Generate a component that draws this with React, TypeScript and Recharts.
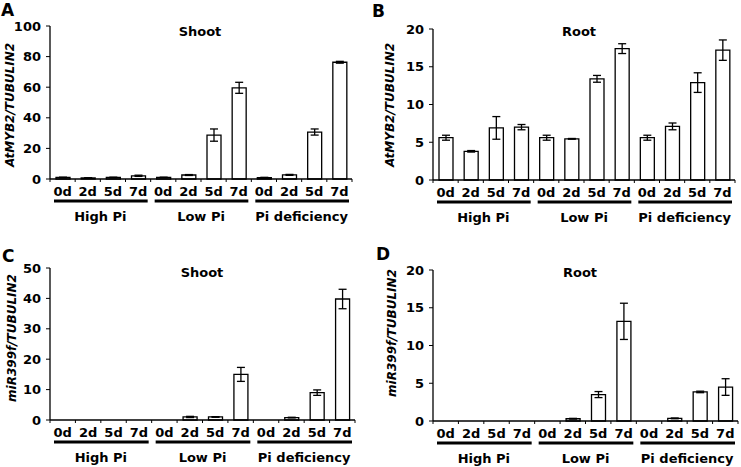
import { Bar, BarChart, ErrorBar, XAxis, YAxis } from "recharts";

const days = ["0d", "2d", "5d", "7d"];
const groups = ["High Pi", "Low Pi", "Pi deficiency"];

const shootMyb2 = [1.0, 0.7, 1.0, 2.1, 1.0, 2.6, 28.7, 59.6, 0.9, 2.7, 30.7, 76.3];
const shootMyb2Err = [0.2, 0.1, 0.2, 0.4, 0.2, 0.3, 4.0, 3.6, 0.2, 0.3, 2.0, 0.6];
const rootMyb2 = [5.6, 3.8, 6.9, 7.0, 5.6, 5.45, 13.4, 17.4, 5.6, 7.1, 12.9, 17.2];
const rootMyb2Err = [0.33, 0.1, 1.5, 0.35, 0.33, 0.05, 0.45, 0.65, 0.33, 0.45, 1.3, 1.35];
const shootMir = [0, 0, 0, 0, 0, 1.0, 1.0, 15.0, 0, 0.8, 9.0, 39.8];
const shootMirErr = [0, 0, 0, 0, 0, 0.2, 0.1, 2.3, 0, 0.1, 0.9, 3.2];
const rootMir = [0, 0, 0, 0, 0, 0.3, 3.5, 13.2, 0, 0.35, 3.85, 4.5];
const rootMirErr = [0, 0, 0, 0, 0, 0.05, 0.4, 2.4, 0, 0.05, 0.1, 1.1];

const ticks100 = [0, 20, 40, 60, 80, 100];
const ticks20 = [0, 5, 10, 15, 20];
const ticks50 = [0, 10, 20, 30, 40, 50];

const FONT = "'DejaVu Sans', sans-serif";

function rows(values: number[], errs: number[]) {
  return groups.flatMap((g, gi) =>
    days.map((d, di) => ({ group: g, day: d, value: values[gi * 4 + di], err: errs[gi * 4 + di] }))
  );
}

function DayTick(props: any) {
  const { x, y, payload, index, band } = props;
  const half = band / 2;
  const last = index === groups.length * days.length - 1;
  return (
    <g>
      <line x1={x - half} x2={x - half} y1={y} y2={y + 3} stroke="#000" strokeWidth={1} />
      {last && <line x1={x + half} x2={x + half} y1={y} y2={y + 3} stroke="#000" strokeWidth={1} />}
      <text x={x} y={y + 17} textAnchor="middle" fontFamily={FONT} fontWeight="bold" fontSize={13} fill="#000">
        {payload.value}
      </text>
      {index % 4 === 0 && (
        <>
          <line x1={x - half + 4} x2={x + 3.5 * band - 3} y1={y + 22} y2={y + 22} stroke="#000" strokeWidth={3} />
          <text x={x + 1.5 * band} y={y + 42} textAnchor="middle" fontFamily={FONT} fontWeight="bold" fontSize={13} fill="#000">
            {groups[index / 4]}
          </text>
        </>
      )}
    </g>
  );
}

type PanelProps = {
  left: number;
  top: number;
  width: number;
  height: number;
  margin: { top: number; right: number; bottom: number; left: number };
  yWidth: number;
  values: number[];
  errs: number[];
  max: number;
  ticks: number[];
  letter: string;
  letterPos: [number, number];
  title: string;
  titlePos: [number, number];
  yLabel: string;
  yLabelPos: [number, number];
};

function Panel(p: PanelProps) {
  const data = rows(p.values, p.errs);
  const plotW = p.width - p.margin.left - p.margin.right - p.yWidth;
  const band = plotW / data.length;
  return (
    <div style={{ position: "absolute", left: p.left, top: p.top, width: p.width, height: p.height }}>
      <BarChart width={p.width} height={p.height} data={data} margin={p.margin} barSize={14}>
        <XAxis
          dataKey="day"
          height={45}
          axisLine={{ stroke: "#000", strokeWidth: 1.3 }}
          tickLine={false}
          tickSize={0}
          tickMargin={0}
          interval={0}
          tick={(t: any) => <DayTick {...t} band={band} />}
        />
        <YAxis
          width={p.yWidth}
          domain={[0, p.max]}
          ticks={p.ticks}
          interval={0}
          axisLine={{ stroke: "#000", strokeWidth: 1.3 }}
          tickLine={{ stroke: "#000", strokeWidth: 1 }}
          tickSize={4}
          tickMargin={5}
          tick={{ fill: "#000", fontSize: 13, fontWeight: "bold", fontFamily: FONT }}
        />
        <Bar dataKey="value" fill="#fff" stroke="#000" strokeWidth={1.3} isAnimationActive={false}>
          <ErrorBar dataKey="err" width={4} stroke="#000" strokeWidth={1.3} />
        </Bar>
      </BarChart>
      <svg
        width={p.width}
        height={p.height}
        style={{ position: "absolute", left: 0, top: 0, pointerEvents: "none" }}
      >
        <text x={p.letterPos[0]} y={p.letterPos[1]} fontFamily={FONT} fontWeight="bold" fontSize={17} fill="#000">
          {p.letter}
        </text>
        <text x={p.titlePos[0]} y={p.titlePos[1]} textAnchor="middle" fontFamily={FONT} fontWeight="bold" fontSize={13} fill="#000">
          {p.title}
        </text>
        <text
          transform={`translate(${p.yLabelPos[0]},${p.yLabelPos[1]}) rotate(-90)`}
          textAnchor="middle"
          fontFamily={FONT}
          fontWeight="bold"
          fontStyle="italic"
          fontSize={12}
          fill="#000"
        >
          {p.yLabel}
        </text>
      </svg>
    </div>
  );
}

export default function App() {
  return (
    <div style={{ position: "absolute", left: 0, top: 0, width: 741, height: 467, background: "#fff", overflow: "hidden" }}>
      <Panel
        left={0}
        top={0}
        width={370}
        height={230}
        margin={{ top: 26, right: 18, bottom: 6, left: 0 }}
        yWidth={50}
        values={shootMyb2}
        errs={shootMyb2Err}
        max={100}
        ticks={ticks100}
        letter="A"
        letterPos={[1, 16]}
        title="Shoot"
        titlePos={[200, 36]}
        yLabel="AtMYB2/TUBULIN2"
        yLabelPos={[14, 105]}
      />
      <Panel
        left={370}
        top={0}
        width={371}
        height={230}
        margin={{ top: 29, right: 6, bottom: 5, left: 0 }}
        yWidth={63}
        values={rootMyb2}
        errs={rootMyb2Err}
        max={20}
        ticks={ticks20}
        letter="B"
        letterPos={[2, 17]}
        title="Root"
        titlePos={[209, 36]}
        yLabel="AtMYB2/TUBULIN2"
        yLabelPos={[24, 105]}
      />
      <Panel
        left={0}
        top={230}
        width={370}
        height={237}
        margin={{ top: 38, right: 15, bottom: 2, left: 0 }}
        yWidth={50}
        values={shootMir}
        errs={shootMirErr}
        max={50}
        ticks={ticks50}
        letter="C"
        letterPos={[2, 32]}
        title="Shoot"
        titlePos={[202, 47]}
        yLabel="miR399f/TUBULIN2"
        yLabelPos={[16, 108]}
      />
      <Panel
        left={370}
        top={230}
        width={371}
        height={237}
        margin={{ top: 40, right: 3, bottom: 1, left: 0 }}
        yWidth={63}
        values={rootMir}
        errs={rootMirErr}
        max={20}
        ticks={ticks20}
        letter="D"
        letterPos={[6, 30]}
        title="Root"
        titlePos={[210, 47]}
        yLabel="miR399f/TUBULIN2"
        yLabelPos={[26, 103]}
      />
    </div>
  );
}
